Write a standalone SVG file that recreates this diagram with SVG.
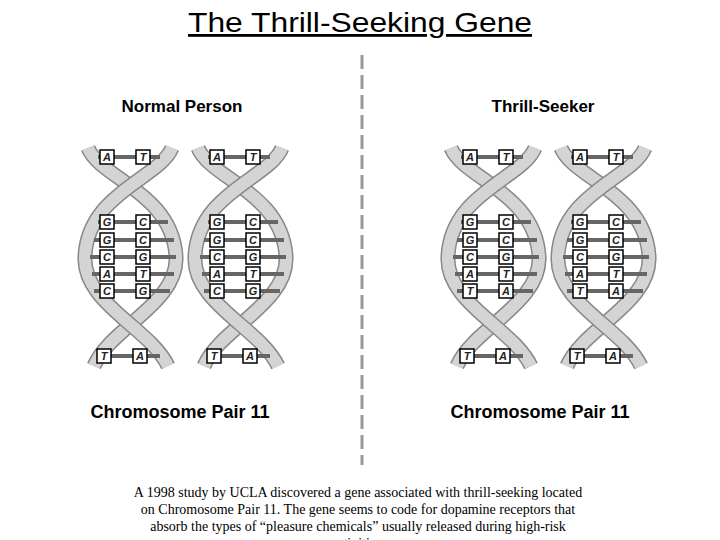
<svg xmlns="http://www.w3.org/2000/svg" xmlns:xlink="http://www.w3.org/1999/xlink" width="720" height="540" viewBox="0 0 720 540">
<style>
.h{font-family:"Liberation Sans",Arial,sans-serif;font-weight:bold;font-size:17px;text-anchor:middle;fill:#000}
.h2{font-family:"Liberation Sans",Arial,sans-serif;font-weight:bold;font-size:18px;text-anchor:middle;fill:#000}
.b{font-family:"Liberation Serif","Times New Roman",serif;font-size:14px;text-anchor:middle;fill:#000}
.bx{fill:#fff;stroke:#000;stroke-width:1.5}
.bt{font-family:"Liberation Sans",Arial,sans-serif;font-weight:bold;font-size:11px;font-style:italic;text-anchor:middle;fill:#222}
.rib{fill:none;stroke:#888;stroke-width:15}
.ribi{fill:none;stroke:#d4d4d4;stroke-width:12}
.rung{stroke:#666;stroke-width:4}
</style>
<defs>
<g id="helix">
<path class="rib" d="M8 0 C20 30 92 45 96 108 C99 155 30 180 14 218"/>
<path class="ribi" d="M8 0 C20 30 92 45 96 108 C99 155 30 180 14 218"/>
<path class="rib" d="M92 0 C80 30 8 45 5 108 C2 155 70 180 88 218"/>
<path class="ribi" d="M92 0 C80 30 8 45 5 108 C2 155 70 180 88 218"/>
<g class="rung">
<line x1="18" y1="9" x2="80" y2="9"/>
<line x1="18" y1="74" x2="88" y2="74"/>
<line x1="14" y1="92" x2="94" y2="92"/>
<line x1="10" y1="109" x2="96" y2="109"/>
<line x1="12" y1="126" x2="94" y2="126"/>
<line x1="14" y1="143" x2="90" y2="143"/>
<line x1="20" y1="208" x2="80" y2="208"/>
</g>
</g>
</defs>
<text x="360" y="32" font-family="Liberation Sans,Arial,sans-serif" font-size="28" text-anchor="middle" text-decoration="underline" textLength="344" lengthAdjust="spacingAndGlyphs">The Thrill-Seeking Gene</text>
<g id="divider"><line x1="362" y1="55" x2="362" y2="465" stroke="#999" stroke-width="3" stroke-dasharray="14,6"/></g>
<text class="h" x="182" y="112">Normal Person</text>
<text class="h" x="543" y="112">Thrill-Seeker</text>
<text class="h2" x="180" y="418">Chromosome Pair 11</text>
<text class="h2" x="540" y="418">Chromosome Pair 11</text>
<g id="dna1" transform="translate(80,148)">
<use xlink:href="#helix"/>
<rect class="bx" x="20" y="2" width="14" height="14"/><text class="bt" x="27" y="13">A</text>
<rect class="bx" x="56" y="2" width="14" height="14"/><text class="bt" x="63" y="13">T</text>
<rect class="bx" x="20" y="67" width="14" height="14"/><text class="bt" x="27" y="78">G</text>
<rect class="bx" x="56" y="67" width="14" height="14"/><text class="bt" x="63" y="78">C</text>
<rect class="bx" x="20" y="85" width="14" height="14"/><text class="bt" x="27" y="96">G</text>
<rect class="bx" x="56" y="85" width="14" height="14"/><text class="bt" x="63" y="96">C</text>
<rect class="bx" x="20" y="102" width="14" height="14"/><text class="bt" x="27" y="113">C</text>
<rect class="bx" x="56" y="102" width="14" height="14"/><text class="bt" x="63" y="113">G</text>
<rect class="bx" x="20" y="119" width="14" height="14"/><text class="bt" x="27" y="130">A</text>
<rect class="bx" x="56" y="119" width="14" height="14"/><text class="bt" x="63" y="130">T</text>
<rect class="bx" x="20" y="136" width="14" height="14"/><text class="bt" x="27" y="147">C</text>
<rect class="bx" x="56" y="136" width="14" height="14"/><text class="bt" x="63" y="147">G</text>
<rect class="bx" x="17" y="201" width="14" height="14"/><text class="bt" x="24" y="212">T</text>
<rect class="bx" x="53" y="201" width="14" height="14"/><text class="bt" x="60" y="212">A</text>
</g>
<g id="dna2" transform="translate(190,148)">
<use xlink:href="#helix"/>
<rect class="bx" x="20" y="2" width="14" height="14"/><text class="bt" x="27" y="13">A</text>
<rect class="bx" x="56" y="2" width="14" height="14"/><text class="bt" x="63" y="13">T</text>
<rect class="bx" x="20" y="67" width="14" height="14"/><text class="bt" x="27" y="78">G</text>
<rect class="bx" x="56" y="67" width="14" height="14"/><text class="bt" x="63" y="78">C</text>
<rect class="bx" x="20" y="85" width="14" height="14"/><text class="bt" x="27" y="96">G</text>
<rect class="bx" x="56" y="85" width="14" height="14"/><text class="bt" x="63" y="96">C</text>
<rect class="bx" x="20" y="102" width="14" height="14"/><text class="bt" x="27" y="113">C</text>
<rect class="bx" x="56" y="102" width="14" height="14"/><text class="bt" x="63" y="113">G</text>
<rect class="bx" x="20" y="119" width="14" height="14"/><text class="bt" x="27" y="130">A</text>
<rect class="bx" x="56" y="119" width="14" height="14"/><text class="bt" x="63" y="130">T</text>
<rect class="bx" x="20" y="136" width="14" height="14"/><text class="bt" x="27" y="147">C</text>
<rect class="bx" x="56" y="136" width="14" height="14"/><text class="bt" x="63" y="147">G</text>
<rect class="bx" x="17" y="201" width="14" height="14"/><text class="bt" x="24" y="212">T</text>
<rect class="bx" x="53" y="201" width="14" height="14"/><text class="bt" x="60" y="212">A</text>
</g>
<g id="dna3" transform="translate(443,148)">
<use xlink:href="#helix"/>
<rect class="bx" x="20" y="2" width="14" height="14"/><text class="bt" x="27" y="13">A</text>
<rect class="bx" x="56" y="2" width="14" height="14"/><text class="bt" x="63" y="13">T</text>
<rect class="bx" x="20" y="67" width="14" height="14"/><text class="bt" x="27" y="78">G</text>
<rect class="bx" x="56" y="67" width="14" height="14"/><text class="bt" x="63" y="78">C</text>
<rect class="bx" x="20" y="85" width="14" height="14"/><text class="bt" x="27" y="96">G</text>
<rect class="bx" x="56" y="85" width="14" height="14"/><text class="bt" x="63" y="96">C</text>
<rect class="bx" x="20" y="102" width="14" height="14"/><text class="bt" x="27" y="113">C</text>
<rect class="bx" x="56" y="102" width="14" height="14"/><text class="bt" x="63" y="113">G</text>
<rect class="bx" x="20" y="119" width="14" height="14"/><text class="bt" x="27" y="130">A</text>
<rect class="bx" x="56" y="119" width="14" height="14"/><text class="bt" x="63" y="130">T</text>
<rect class="bx" x="20" y="136" width="14" height="14"/><text class="bt" x="27" y="147">T</text>
<rect class="bx" x="56" y="136" width="14" height="14"/><text class="bt" x="63" y="147">A</text>
<rect class="bx" x="17" y="201" width="14" height="14"/><text class="bt" x="24" y="212">T</text>
<rect class="bx" x="53" y="201" width="14" height="14"/><text class="bt" x="60" y="212">A</text>
</g>
<g id="dna4" transform="translate(553,148)">
<use xlink:href="#helix"/>
<rect class="bx" x="20" y="2" width="14" height="14"/><text class="bt" x="27" y="13">A</text>
<rect class="bx" x="56" y="2" width="14" height="14"/><text class="bt" x="63" y="13">T</text>
<rect class="bx" x="20" y="67" width="14" height="14"/><text class="bt" x="27" y="78">G</text>
<rect class="bx" x="56" y="67" width="14" height="14"/><text class="bt" x="63" y="78">C</text>
<rect class="bx" x="20" y="85" width="14" height="14"/><text class="bt" x="27" y="96">G</text>
<rect class="bx" x="56" y="85" width="14" height="14"/><text class="bt" x="63" y="96">C</text>
<rect class="bx" x="20" y="102" width="14" height="14"/><text class="bt" x="27" y="113">C</text>
<rect class="bx" x="56" y="102" width="14" height="14"/><text class="bt" x="63" y="113">G</text>
<rect class="bx" x="20" y="119" width="14" height="14"/><text class="bt" x="27" y="130">A</text>
<rect class="bx" x="56" y="119" width="14" height="14"/><text class="bt" x="63" y="130">T</text>
<rect class="bx" x="20" y="136" width="14" height="14"/><text class="bt" x="27" y="147">T</text>
<rect class="bx" x="56" y="136" width="14" height="14"/><text class="bt" x="63" y="147">A</text>
<rect class="bx" x="17" y="201" width="14" height="14"/><text class="bt" x="24" y="212">T</text>
<rect class="bx" x="53" y="201" width="14" height="14"/><text class="bt" x="60" y="212">A</text>
</g>
<text class="b" x="358" y="497">A 1998 study by UCLA discovered a gene associated with thrill-seeking located</text>
<text class="b" x="358" y="514">on Chromosome Pair 11. The gene seems to code for dopamine receptors that</text>
<text class="b" x="358" y="531">absorb the types of “pleasure chemicals” usually released during high-risk</text>
<text class="b" x="358" y="548">activities.</text>
</svg>
